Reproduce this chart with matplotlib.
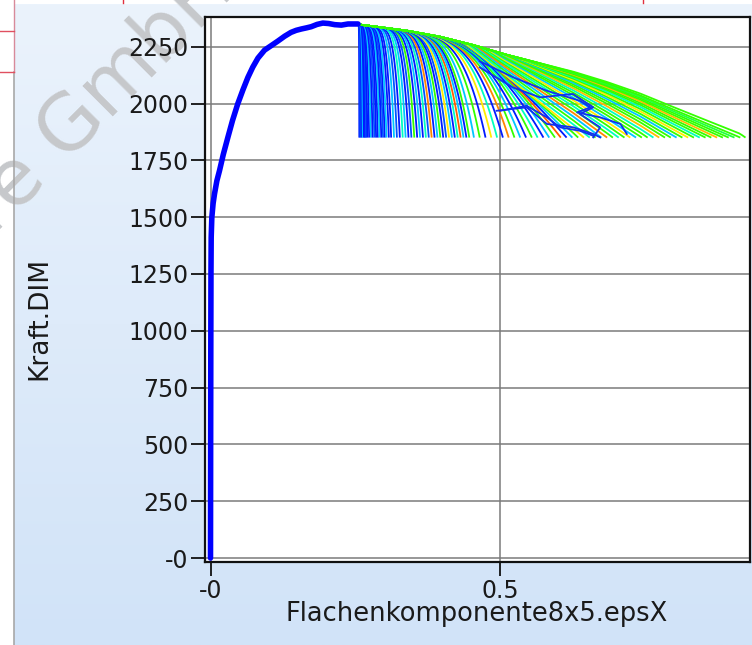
import numpy as np
import matplotlib
matplotlib.use("Agg")
import matplotlib.pyplot as plt
from matplotlib.colors import LinearSegmentedColormap
from matplotlib.lines import Line2D

# ---------------- data ----------------
main_x = [0.0, 0.0002, 0.0005, 0.0008, 0.0012, 0.0023, 0.0045, 0.0069, 0.011, 0.0156,
          0.022, 0.030, 0.038, 0.047, 0.056, 0.0646, 0.073, 0.082, 0.0934, 0.105,
          0.1165, 0.128, 0.139, 0.148, 0.157, 0.166, 0.174, 0.184, 0.194, 0.204,
          0.2145, 0.226, 0.2375, 0.2548]
main_y = [0, 400, 900, 1250, 1411, 1499, 1560, 1602, 1660, 1705,
          1775, 1851, 1925, 1998, 2060, 2115, 2160, 2200, 2235, 2255,
          2275, 2296, 2313, 2322, 2328, 2333, 2338, 2348, 2354, 2352,
          2347, 2345, 2350, 2350]

env_x = [0.255, 0.280, 0.340, 0.396, 0.454, 0.512, 0.569, 0.627, 0.684, 0.742, 0.799, 0.857, 0.9145, 0.925]
env_y = [2348, 2340, 2320, 2294, 2257, 2214, 2177, 2140, 2096, 2045, 1986, 1927, 1869, 1850]
floor_y = 1850

fan_end_x = [
    0.257, 0.259, 0.261, 0.263, 0.265, 0.267, 0.269, 0.271, 0.274, 0.277,
    0.280, 0.283, 0.286, 0.289, 0.292, 0.295, 0.298, 0.301, 0.304, 0.308,
    0.312, 0.317, 0.322, 0.327, 0.332, 0.337, 0.342, 0.347, 0.352, 0.357,
    0.362, 0.367, 0.372, 0.377, 0.382, 0.387, 0.392, 0.397, 0.402, 0.407,
    0.412, 0.417, 0.422, 0.427, 0.432, 0.437, 0.442, 0.447,
    0.455, 0.465, 0.475, 0.485, 0.495, 0.505, 0.515, 0.525, 0.535, 0.545,
    0.555, 0.565, 0.575, 0.585, 0.595, 0.605, 0.615, 0.625, 0.635, 0.645,
    0.655, 0.665, 0.675, 0.685, 0.695, 0.705, 0.715, 0.725, 0.735, 0.745,
    0.755, 0.765, 0.775, 0.785, 0.795, 0.805, 0.815, 0.825, 0.835, 0.845,
    0.855, 0.865, 0.875, 0.885, 0.895, 0.905, 0.915, 0.924]
fan_color = [
    0.05, 0.15, 0.05, 0.30, 0.05, 0.05, 0.15, 0.05, 0.05, 0.30,
    0.05, 0.15, 0.05, 0.05, 0.30, 0.05, 0.15, 0.05, 0.30, 0.05,
    0.05, 0.30, 0.15, 0.05, 0.45, 0.30, 0.05, 0.15, 0.60, 0.05,
    0.30, 0.05, 0.45, 0.15, 0.85, 0.05, 0.30, 0.60, 0.05, 0.15,
    0.75, 0.30, 0.05, 0.45, 0.90, 0.30, 0.05, 0.60,
    0.30, 0.60, 0.05, 0.75, 0.45, 0.05, 0.85, 0.60, 0.30, 0.05,
    0.60, 0.45, 0.05, 0.30, 0.60, 0.90, 0.05, 0.30, 0.60, 0.75,
    0.45, 0.60, 0.30, 0.85, 0.60, 0.45, 0.60, 0.75, 0.30, 0.60,
    0.60, 0.45, 0.80, 0.60, 0.60, 0.30, 0.60, 0.75, 0.60, 0.45,
    0.60, 0.60, 0.80, 0.60, 0.60, 0.55, 0.60, 0.60]

tangle_1_x = [0.465, 0.522, 0.569, 0.626, 0.661, 0.638, 0.673, 0.661]
tangle_1_y = [2159, 2071, 2027, 2042, 1983, 1954, 1895, 1851]
tangle_2_x = [0.494, 0.546, 0.581, 0.627, 0.661, 0.673]
tangle_2_y = [1968, 1983, 1910, 1895, 1866, 1851]
tangle_3_x = [0.500, 0.546, 0.581, 0.604, 0.638, 0.661]
tangle_3_y = [1968, 1990, 1939, 1895, 1880, 1858]
tangle_4_x = [0.465, 0.523, 0.581, 0.638, 0.656, 0.633, 0.673, 0.708, 0.719]
tangle_4_y = [2186, 2115, 2056, 2012, 1983, 1961, 1939, 1910, 1866]

x_ticks = [0.0, 0.5]
x_tick_labels = ["-0", "0.5"]
y_ticks = [0, 250, 500, 750, 1000, 1250, 1500, 1750, 2000, 2250]
y_tick_labels = ["-0", "250", "500", "750", "1000", "1250", "1500", "1750", "2000", "2250"]

x_label = "Flachenkomponente8x5.epsX"
y_label = "Kraft.DIM"
watermark = "re GmbH"

# ---------------- figure ----------------
W, H = 752, 645
fig = plt.figure(figsize=(W / 100, H / 100), dpi=100)
fig.patch.set_facecolor("white")

# gradient background panel
bg = fig.add_axes([14 / W, 0, 1 - 14 / W, 1 - 4 / H], zorder=-3)
grad = np.linspace(0, 1, 256)[:, None]
bg_cmap = LinearSegmentedColormap.from_list("bg", ["#ebf3fc", "#d1e3f8"])
bg.imshow(grad, aspect="auto", cmap=bg_cmap, extent=[0, 1, 0, 1], origin="upper")
bg.set_axis_off()

# watermark (behind plot area)
fig.text(100 / W, 1 - 98 / H, watermark, rotation=45, rotation_mode="anchor",
         ha="center", va="center", fontsize=56, color="#c6c8cb", zorder=-2)

# frame artefacts
fig.add_artist(Line2D([14 / W, 14 / W], [0, 1 - 72 / H], color="#a8a8a8", lw=1.2,
                      transform=fig.transFigure))
fig.add_artist(Line2D([14 / W, 14 / W], [1 - 72 / H, 1], color="#d88a9a", lw=1.0,
                      transform=fig.transFigure))
for yy in [31, 72]:
    fig.add_artist(Line2D([0, 14 / W], [1 - yy / H, 1 - yy / H], color="#e05060", lw=1.0,
                          transform=fig.transFigure))
for xx in [123, 643]:
    fig.add_artist(Line2D([xx / W, xx / W], [1 - 3 / H, 1], color="#e03040", lw=1.0,
                          transform=fig.transFigure))

# main axes
ax = fig.add_axes([205 / W, 1 - 562 / H, 544.5 / W, (562 - 16.7) / H], zorder=0)
ax.set_facecolor("white")
ax.set_xlim(-0.0095, 0.9309)
ax.set_ylim(-17.6, 2382)

fan_cmap = LinearSegmentedColormap.from_list(
    "fan", [(0.0, "#0000ff"), (0.15, "#0055ff"), (0.30, "#00c8ff"), (0.45, "#00ffc0"),
            (0.60, "#33ff00"), (0.75, "#ffee00"), (0.85, "#ff8800"), (1.0, "#ff1000")])

start_x = env_x[0]
for d, c in zip(fan_end_x, fan_color):
    xs = np.linspace(start_x, d, 120)
    e = np.interp(xs, env_x, env_y)
    drop = np.interp(d, env_x, env_y) - floor_y
    w = 0.012 + 0.5 * (d - start_x)
    s = max(d - w, start_x)
    t = np.clip((xs - s) / max(d - s, 1e-6), 0, 1)
    p = max(1.0, 6.5 - 14.0 * (d - start_x))
    ys = e - drop * t ** p
    ax.plot(xs, ys, color=fan_cmap(c), lw=1.3, zorder=2, solid_capstyle="butt")

for tx, ty in [(tangle_1_x, tangle_1_y), (tangle_2_x, tangle_2_y),
               (tangle_3_x, tangle_3_y), (tangle_4_x, tangle_4_y)]:
    ax.plot(tx, ty, color="#1030f0", lw=1.3, zorder=3)

ax.plot(main_x, main_y, color="#0000ff", lw=4.0, zorder=4,
        solid_joinstyle="round", solid_capstyle="round")

# grid & axes styling
ax.set_xticks(x_ticks)
ax.set_xticklabels(x_tick_labels)
ax.set_yticks(y_ticks)
ax.set_yticklabels(y_tick_labels)
ax.grid(True, color="#7a7a7a", lw=1.1, zorder=1)
ax.set_axisbelow(True)
ax.tick_params(axis="both", direction="out", length=10, width=1.3, color="#111111",
               labelsize=17, pad=2, labelcolor="#1a1a1a")
for sp in ax.spines.values():
    sp.set_color("#111111")
    sp.set_linewidth(1.6)

fig.text(477 / W, 1 - 614 / H, x_label, ha="center", va="center", fontsize=18.5, color="#1a1a1a")
fig.text(39 / W, 1 - 318 / H, y_label, ha="center", va="center", rotation=90,
         fontsize=19, color="#1a1a1a")

fig.savefig("out.png", dpi=100)
